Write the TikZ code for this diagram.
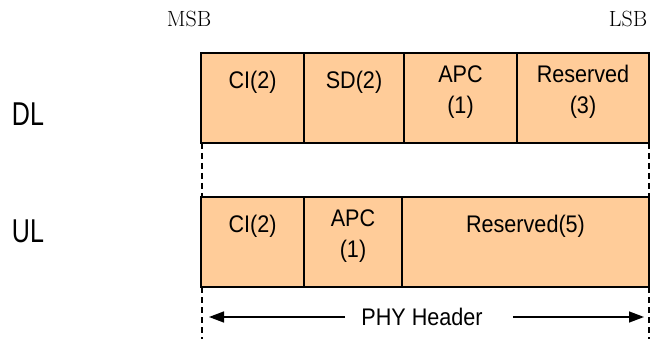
\documentclass[tikz,border=0pt]{standalone}
\usepackage{fontspec}
\usepackage{xcolor}
\newfontfamily\arialfont{Liberation Sans}
\usetikzlibrary{arrows.meta}

\definecolor{fieldfill}{RGB}{255,204,153}

\begin{document}
\begin{tikzpicture}[x=1pt, y=-1pt,
    field/.style={draw, line width=1.4pt, fill=fieldfill, minimum height=90pt,
        inner sep=0pt, outer sep=0pt, anchor=north west},
    fieldtext/.style={font=\arialfont\fontsize{24pt}{31pt}\selectfont,
        xscale=0.9, transform shape, align=center, inner sep=0pt},
    linktext/.style={font=\arialfont\fontsize{33pt}{36pt}\selectfont,
        xscale=0.76, transform shape, inner sep=0pt},
    bittext/.style={font=\fontsize{22pt}{24pt}\selectfont, inner sep=0pt},
    guide/.style={line width=1.2pt, dash pattern=on 6pt off 4pt},
    span/.style={line width=1.4pt, -{Triangle[length=15pt, width=11pt]}}]

\useasboundingbox (0,0) rectangle (656,339);

% Bit order
\node[bittext] (msb) at (189,19) {MSB};
\node[bittext] (lsb) at (628,19) {LSB};

% Link direction
\node[linktext] (dl) at (28,114) {DL};
\node[linktext] (ul) at (28,231) {UL};

% DL fields
\node[field, minimum width=103pt] (dlci)  at (201,53) {};
\node[field, minimum width=100pt] (dlsd)  at (dlci.north east) {};
\node[field, minimum width=113pt] (dlapc) at (dlsd.north east) {};
\node[field, minimum width=132pt] (dlres) at (dlapc.north east) {};

\node[fieldtext, yshift=-29.5pt] (dlcit)  at (dlci.north)  {CI(2)};
\node[fieldtext, yshift=-29.5pt] (dlsdt)  at (dlsd.north)  {SD(2)};
\node[fieldtext, yshift=-39pt] (dlapct) at (dlapc.north) {APC\\(1)};
\node[fieldtext, yshift=-39pt] (dlrest) at (dlres.north) {Reserved\\(3)};

% UL fields
\node[field, minimum width=103pt] (ulci)  at (201,197) {};
\node[field, minimum width=98pt]  (ulapc) at (ulci.north east) {};
\node[field, minimum width=247pt] (ulres) at (ulapc.north east) {};

\node[fieldtext, yshift=-29.5pt] (ulcit)  at (ulci.north)  {CI(2)};
\node[fieldtext, yshift=-39pt] (ulapct) at (ulapc.north) {APC\\(1)};
\node[fieldtext, yshift=-29.5pt] (ulrest) at (ulres.north) {Reserved(5)};

% Header bounds
\coordinate (bl) at (202,339);
\coordinate (br) at (649,339);
\draw[guide] ([xshift=1pt]dlci.south west) -- ([xshift=1pt]ulci.north west);
\draw[guide] ([xshift=1pt]ulci.south west) -- (bl);
\draw[guide] (dlres.south east) -- (ulres.north east);
\draw[guide] (ulres.south east) -- (br);

% Header span
\node[fieldtext] (phy) at (422,317) {PHY Header};
\coordinate (arrl) at (209,317);
\coordinate (arrr) at (644,317);
\draw[span] ([xshift=-16pt]phy.west) -- (arrl);
\draw[span] ([xshift=30pt]phy.east) -- (arrr);

\end{tikzpicture}
\end{document}
